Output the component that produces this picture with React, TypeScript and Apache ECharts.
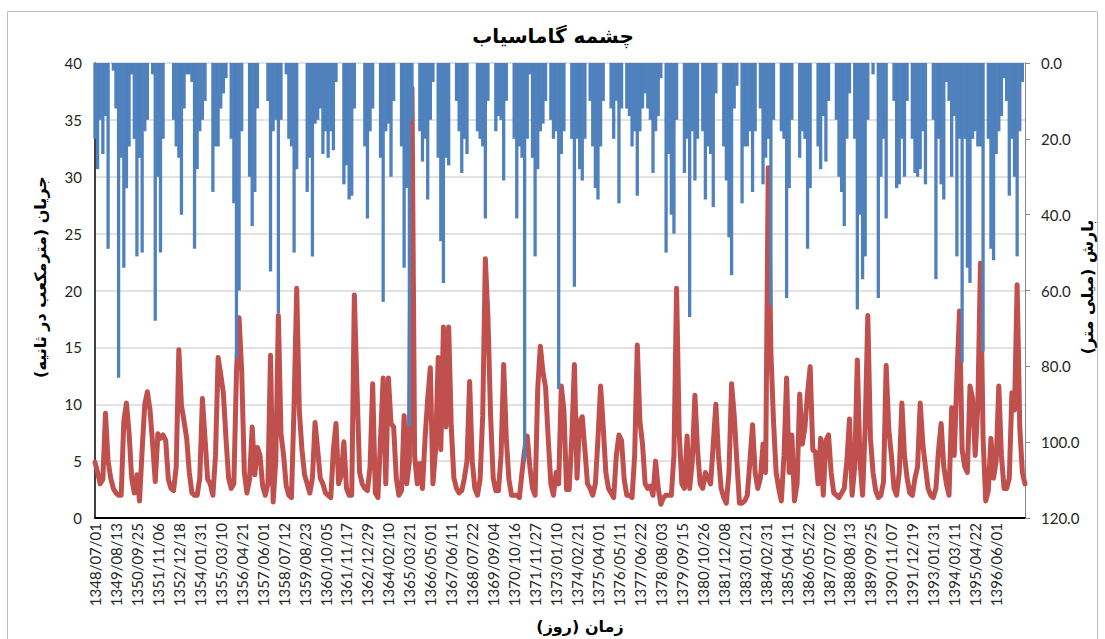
import React, { useEffect, useRef } from "react";
import * as echarts from "echarts";

const TICK_LABELS = [
  "1348/07/01", "1349/08/13", "1350/09/25", "1351/11/06", "1352/12/18", "1354/01/31",
  "1355/03/10", "1356/04/21", "1357/06/01", "1358/07/12", "1359/08/23", "1360/10/05",
  "1361/11/17", "1362/12/29", "1364/02/10", "1365/03/21", "1366/05/01", "1367/06/11",
  "1368/07/22", "1369/09/04", "1370/10/16", "1371/11/27", "1373/01/10", "1374/02/21",
  "1375/04/01", "1376/05/11", "1377/06/22", "1378/08/03", "1379/09/15", "1380/10/26",
  "1381/12/08", "1383/01/21", "1384/02/31", "1385/04/11", "1386/05/22", "1387/07/02",
  "1388/08/13", "1389/09/25", "1390/11/07", "1391/12/19", "1393/01/31", "1394/03/11",
  "1395/04/22", "1396/06/01",
];

// one value per ~51-day step, 8 steps between labelled dates
const FLOW = [
  4.9, 4.0, 3.0, 3.4, 9.2, 5.0, 3.5, 2.6, 2.2, 2.0,
  2.0, 8.5, 10.1, 7.5, 3.5, 2.2, 3.8, 1.5, 6.0, 10.0,
  11.1, 9.5, 6.5, 3.2, 7.4, 7.0, 7.3, 6.8, 3.4, 2.6,
  2.4, 4.5, 14.8, 9.9, 8.5, 7.0, 4.0, 2.2, 2.0, 2.0,
  3.5, 10.5, 7.0, 3.4, 3.0, 2.0, 5.5, 14.1, 12.6, 11.0,
  7.0, 3.5, 2.6, 3.0, 12.8, 17.6, 12.9, 4.0, 2.2, 3.4,
  8.0, 3.8, 6.2, 5.5, 2.8, 2.0, 3.0, 14.3, 1.4, 5.0,
  17.8, 7.4, 5.5, 2.8, 2.0, 1.8, 10.0, 20.2, 9.4, 6.0,
  3.8, 3.0, 2.2, 3.5, 8.4, 6.0, 3.5, 3.0, 2.2, 2.0,
  1.8, 6.0, 8.3, 3.0, 3.8, 6.7, 2.6, 2.0, 2.0, 19.6,
  11.5, 4.0, 3.0, 2.6, 2.4, 4.5, 11.8, 2.2, 1.8, 7.0,
  12.3, 3.0, 12.3, 8.3, 8.0, 3.5, 2.0, 2.4, 9.0, 3.0,
  5.0, 37.8, 5.5, 3.0, 4.8, 2.6, 7.0, 10.5, 13.2, 3.0,
  6.0, 14.1, 6.0, 16.8, 8.0, 16.8, 8.0, 3.5, 2.6, 2.2,
  2.4, 3.5, 5.0, 12.0, 5.0, 2.6, 2.0, 3.4, 9.0, 22.8,
  17.6, 9.0, 3.5, 2.4, 2.4, 5.5, 13.5, 7.0, 3.4, 2.0,
  2.0, 2.0, 1.8, 4.0, 6.0, 7.2, 4.5, 2.6, 2.0, 11.4,
  15.1, 12.8, 11.5, 7.0, 3.0, 2.0, 4.0, 3.0, 11.6, 9.5,
  2.5, 2.5, 7.0, 13.5, 3.5, 8.5, 8.9, 6.0, 3.0, 2.6,
  2.0, 3.0, 7.0, 11.6, 8.0, 4.0, 2.6, 2.2, 1.8, 5.5,
  7.3, 6.8, 3.4, 2.0, 2.0, 1.8, 5.5, 15.2, 8.5, 6.5,
  3.0, 2.6, 2.8, 2.0, 5.0, 2.6, 1.2, 1.8, 2.0, 2.0,
  2.0, 5.5, 20.2, 7.5, 3.0, 2.6, 7.2, 2.6, 5.0, 10.8,
  6.0, 3.0, 2.6, 4.0, 3.5, 3.0, 6.5, 10.0, 5.5, 2.6,
  1.8, 1.3, 4.0, 11.8, 9.0, 5.0, 1.3, 1.3, 1.5, 2.0,
  5.0, 8.2, 4.0, 2.6, 3.5, 6.5, 4.0, 30.8, 14.6, 8.5,
  4.0, 2.6, 1.5, 5.5, 12.3, 4.0, 7.3, 1.5, 3.0, 10.9,
  6.5, 8.0, 11.0, 13.3, 6.0, 5.8, 3.0, 7.0, 2.0, 6.8,
  7.3, 4.0, 2.2, 2.0, 1.8, 2.2, 2.6, 5.0, 8.7, 2.0,
  4.5, 13.9, 5.0, 2.0, 8.0, 17.8, 7.0, 4.0, 2.4, 1.8,
  2.0, 3.2, 13.4, 7.8, 5.5, 2.6, 2.0, 4.0, 10.1, 5.5,
  3.5, 2.2, 2.0, 3.5, 4.5, 10.1, 6.5, 4.5, 2.6, 2.0,
  1.8, 2.6, 6.0, 8.3, 4.5, 3.0, 2.0, 9.7, 5.5, 12.3,
  18.2, 6.0, 4.5, 4.0, 11.6, 10.5, 5.5, 10.0, 22.4, 7.0,
  1.5, 2.4, 7.0, 3.5, 5.0, 11.6, 5.5, 2.6, 2.6, 3.5,
  11.0, 9.5, 20.5, 8.0, 4.0, 3.0,
];

const RAIN = [
  20, 28, 15, 24, 14, 49, 0, 2, 12, 83,
  25, 54, 33, 22, 3, 20, 51, 25, 50, 18,
  15, 0, 3, 68, 30, 50, 20, 0, 0, 0,
  15, 22, 25, 40, 12, 3, 3, 5, 49, 28,
  18, 15, 10, 0, 0, 34, 22, 22, 12, 8,
  4, 0, 20, 37, 78, 60, 18, 0, 0, 30,
  43, 34, 12, 0, 0, 0, 10, 55, 18, 15,
  66, 15, 0, 3, 20, 22, 50, 28, 0, 0,
  0, 34, 25, 51, 16, 15, 12, 24, 18, 25,
  18, 23, 5, 0, 0, 32, 27, 36, 35, 12,
  0, 0, 0, 22, 41, 18, 12, 0, 0, 25,
  63, 18, 16, 30, 10, 0, 0, 22, 54, 33,
  96, 15, 0, 0, 18, 26, 20, 36, 15, 5,
  0, 25, 47, 58, 25, 27, 0, 0, 10, 18,
  29, 20, 24, 0, 0, 0, 18, 20, 22, 41,
  10, 0, 0, 18, 14, 15, 31, 10, 0, 0,
  20, 41, 22, 25, 105, 20, 3, 25, 51, 28,
  18, 16, 10, 0, 15, 20, 18, 86, 24, 18,
  0, 0, 20, 59, 20, 28, 31, 20, 0, 10,
  22, 33, 36, 22, 10, 0, 0, 12, 20, 10,
  37, 12, 0, 12, 14, 22, 18, 35, 18, 12,
  8, 12, 15, 29, 18, 14, 4, 0, 50, 24,
  40, 45, 15, 0, 0, 29, 20, 67, 18, 31,
  20, 0, 18, 36, 22, 24, 38, 8, 0, 0,
  22, 31, 46, 56, 12, 6, 0, 37, 22, 22,
  18, 34, 18, 0, 12, 32, 25, 20, 64, 15,
  0, 0, 18, 20, 62, 33, 15, 0, 0, 25,
  18, 20, 49, 33, 0, 0, 22, 28, 14, 26,
  10, 0, 0, 15, 30, 34, 43, 20, 8, 0,
  20, 65, 40, 57, 51, 15, 0, 3, 0, 62,
  30, 20, 41, 0, 0, 10, 33, 32, 20, 30,
  10, 0, 20, 29, 30, 28, 18, 32, 0, 0,
  15, 57, 20, 32, 36, 5, 10, 30, 14, 51,
  20, 79, 20, 54, 58, 20, 18, 22, 22, 76,
  0, 20, 49, 52, 24, 18, 14, 4, 10, 35,
  20, 30, 51, 18, 5, 0,
];

const LABEL_STEP = 8;
const TITLE = "چشمه گاماسیاب";
const Y_LEFT_NAME = "\u200Fجریان (مترمکعب در ثانیه)\u200F";
const Y_RIGHT_NAME = "\u200Fبارش (میلی متر)\u200F";
const X_NAME = "\u200Fزمان (روز)\u200F";

const TEXT_COLOR = "#262626";
const NUM_FONT = "Lato";
const FA_FONT = "DejaVu Sans";

export default function App() {
  const ref = useRef<HTMLDivElement>(null);

  useEffect(() => {
    if (!ref.current) return;
    const chart = echarts.init(ref.current, null, { renderer: "svg" });
    const cats = FLOW.map((_, i) => String(i));

    chart.setOption({
      animation: false,
      grid: { left: 95, right: 80, top: 63, bottom: 121, containLabel: false },
      xAxis: {
        type: "category",
        data: cats,
        boundaryGap: false,
        axisLine: { show: true, lineStyle: { color: "#000", width: 2 } },
        axisTick: { show: false },
        splitLine: { show: false },
        axisLabel: {
          interval: LABEL_STEP - 1,
          rotate: 90,
          margin: 5,
          fontFamily: NUM_FONT,
          fontSize: 15,
          color: TEXT_COLOR,
          formatter: (_v: string, idx: number) =>
            idx % LABEL_STEP === 0 ? TICK_LABELS[idx / LABEL_STEP] ?? "" : "",
        },
      },
      yAxis: [
        {
          type: "value",
          position: "left",
          min: 0,
          max: 40,
          interval: 5,
          axisLine: { show: true, lineStyle: { color: "#000", width: 1.5 } },
          axisTick: { show: false },
          axisLabel: { margin: 13, fontFamily: NUM_FONT, fontSize: 15, color: TEXT_COLOR },
          splitLine: { show: true, lineStyle: { color: "#D9D9D9", width: 1.5 } },
        },
        {
          type: "value",
          position: "right",
          min: 0,
          max: 120,
          interval: 20,
          inverse: true,
          axisLine: { show: true, lineStyle: { color: "#868686", width: 1 } },
          axisTick: { show: true, inside: false, length: 5, lineStyle: { color: "#868686" } },
          axisLabel: {
            margin: 16,
            fontFamily: NUM_FONT,
            fontSize: 15,
            color: TEXT_COLOR,
            formatter: (v: number) => v.toFixed(1),
          },
          splitLine: { show: false },
        },
      ],
      series: [
        {
          name: "flow",
          type: "line",
          yAxisIndex: 0,
          data: FLOW,
          symbol: "none",
          lineStyle: { color: "#C0504D", width: 5, join: "round", cap: "round" },
          z: 2,
        },
        {
          name: "rain",
          type: "bar",
          yAxisIndex: 1,
          data: RAIN,
          barWidth: 3.3,
          itemStyle: { color: "#4F81BD" },
          z: 3,
        },
      ],
      graphic: [
        {
          type: "rect",
          silent: true,
          z: -10,
          shape: { x: 7.5, y: 11.5, width: 1090, height: 660 },
          style: { fill: "none", stroke: "#BFBFBF", lineWidth: 1 },
        },
        {
          type: "text",
          x: 553,
          y: 36,
          style: {
            text: TITLE,
            font: `bold 20px "${FA_FONT}"`,
            fill: "#000",
            textAlign: "center",
            textVerticalAlign: "middle",
            align: "center",
            verticalAlign: "middle",
          },
        },
        {
          type: "text",
          x: 40,
          y: 277,
          rotation: Math.PI / 2,
          style: {
            text: Y_LEFT_NAME,
            font: `bold 16px "${FA_FONT}"`,
            fill: "#000",
            textAlign: "center",
            textVerticalAlign: "middle",
            align: "center",
            verticalAlign: "middle",
          },
        },
        {
          type: "text",
          x: 1087,
          y: 287,
          rotation: Math.PI / 2,
          style: {
            text: Y_RIGHT_NAME,
            font: `bold 16px "${FA_FONT}"`,
            fill: "#000",
            textAlign: "center",
            textVerticalAlign: "middle",
            align: "center",
            verticalAlign: "middle",
          },
        },
        {
          type: "text",
          x: 580,
          y: 626,
          style: {
            text: X_NAME,
            font: `bold 16px "${FA_FONT}"`,
            fill: "#000",
            textAlign: "center",
            textVerticalAlign: "middle",
            align: "center",
            verticalAlign: "middle",
          },
        },
      ],
    });

    return () => chart.dispose();
  }, []);

  return (
    <div
      ref={ref}
      style={{ position: "absolute", left: 0, top: 0, width: 1105, height: 639 }}
    />
  );
}
